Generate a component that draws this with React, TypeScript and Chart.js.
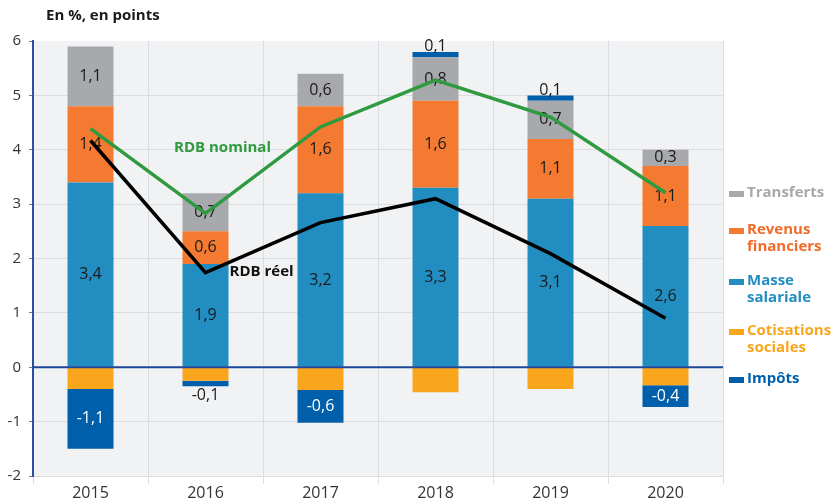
import React, { useEffect, useRef } from "react";
import { Chart, registerables } from "chart.js";

Chart.register(...registerables);

const categories = ["2015", "2016", "2017", "2018", "2019", "2020"];
const masseSalariale = [3.4, 1.9, 3.2, 3.3, 3.1, 2.6];
const revenusFinanciers = [1.4, 0.6, 1.6, 1.6, 1.1, 1.1];
const transferts = [1.1, 0.7, 0.6, 0.8, 0.7, 0.3];
const cotisationsSociales = [-0.4, -0.25, -0.42, -0.46, -0.4, -0.33];
const impots = [-1.1, -0.1, -0.6, 0.1, 0.1, -0.4];
const rdbNominal = [4.39, 2.83, 4.42, 5.28, 4.6, 3.21];
const rdbReel = [4.17, 1.74, 2.66, 3.1, 2.09, 0.9];
const yTicks = [-2, -1, 0, 1, 2, 3, 4, 5, 6];

const FONT = "'Open Sans', 'Noto Sans', sans-serif";

const C_GRAY = "#a7a9ac";
const C_ORANGE = "#f37a30";
const C_BLUE = "#228dc1";
const C_YELLOW = "#f9a61c";
const C_DBLUE = "#005faa";
const C_GREEN = "#2f9a3f";

const legendItems = [
  { lines: ["Transferts"], color: C_GRAY, text: "#a7a9ac" },
  { lines: ["Revenus", "financiers"], color: C_ORANGE, text: "#f26a28" },
  { lines: ["Masse", "salariale"], color: C_BLUE, text: "#228dc1" },
  { lines: ["Cotisations", "sociales"], color: C_YELLOW, text: "#f9a61c" },
  { lines: ["Impôts"], color: C_DBLUE, text: "#005faa" },
];

const fmt = (v: number) => v.toFixed(1).replace(".", ",");

export default function App() {
  const ref = useRef<HTMLCanvasElement | null>(null);

  useEffect(() => {
    document.body.style.margin = "0";
    if (!ref.current) return;
    let labelsDrawn = false;

    const drawLabels = (chart: any) => {
      const ctx = chart.ctx;
      ctx.save();
      ctx.font = `16px ${FONT}`;
      ctx.textAlign = "center";
      ctx.textBaseline = "middle";
      chart.data.datasets.forEach((ds: any, di: number) => {
        if (ds.type !== "bar" || !ds.showLabels) return;
        const meta = chart.getDatasetMeta(di);
        meta.data.forEach((el: any, i: number) => {
          const v = ds.data[i];
          const txt = fmt(v);
          const top = Math.min(el.y, el.base);
          const bot = Math.max(el.y, el.base);
          if (Math.abs(v) < 0.15) {
            ctx.fillStyle = "#1a1a1a";
            if (v > 0) ctx.fillText(txt, el.x, top - 5);
            else ctx.fillText(txt, el.x, bot + 9);
          } else {
            ctx.fillStyle = ds.labelColor || "#1a1a1a";
            ctx.fillText(txt, el.x, (top + bot) / 2);
          }
        });
      });
      ctx.restore();
    };

    const plugin = {
      id: "custom",
      beforeDraw(chart: any) {
        labelsDrawn = false;
        const { ctx, chartArea: a } = chart;
        ctx.save();
        ctx.fillStyle = "#f1f2f4";
        ctx.fillRect(a.left, a.top, a.right - a.left, a.bottom - a.top);
        ctx.restore();
      },
      beforeDatasetDraw(chart: any, args: any) {
        const ds = chart.data.datasets[args.index];
        if (ds.type === "line" && !labelsDrawn) {
          const { ctx, chartArea: a, scales } = chart;
          const y0 = scales.y.getPixelForValue(0);
          ctx.save();
          ctx.strokeStyle = "#1f4799";
          ctx.lineWidth = 2;
          ctx.beginPath();
          ctx.moveTo(a.left, y0);
          ctx.lineTo(a.right, y0);
          ctx.stroke();
          ctx.restore();
          drawLabels(chart);
          labelsDrawn = true;
        }
      },
      afterDraw(chart: any) {
        const { ctx, chartArea: a, scales } = chart;
        ctx.save();
        // title
        ctx.fillStyle = "#1a1a1a";
        ctx.font = `bold 15px ${FONT}`;
        ctx.textAlign = "left";
        ctx.textBaseline = "middle";
        ctx.fillText("En %, en points", 46, 16);
        // line annotations
        const x1 = scales.x.getPixelForValue(1);
        ctx.font = `bold 15px ${FONT}`;
        ctx.fillStyle = C_GREEN;
        ctx.textAlign = "center";
        ctx.fillText("RDB nominal", x1 + 17, scales.y.getPixelForValue(4.03));
        ctx.fillStyle = "#111";
        ctx.textAlign = "left";
        ctx.fillText("RDB réel", x1 + 24, scales.y.getPixelForValue(1.76));
        // legend
        const lx = a.right + 6;
        const tops = [193, 230, 281, 331, 379];
        legendItems.forEach((it, k) => {
          const y = tops[k];
          ctx.fillStyle = it.color;
          ctx.fillRect(lx, y - 2, 15, 6);
          ctx.fillStyle = it.text;
          ctx.font = `bold 15px ${FONT}`;
          ctx.textAlign = "left";
          it.lines.forEach((l, j) => ctx.fillText(l, lx + 18, y + j * 17));
        });
        ctx.restore();
      },
    };

    const barBase = { type: "bar", stack: "bars", order: 1, barPercentage: 0.4, categoryPercentage: 1, borderWidth: 0 };

    const chart = new Chart(ref.current, {
      type: "bar",
      data: {
        labels: categories,
        datasets: [
          { ...barBase, label: "Masse salariale", data: masseSalariale, backgroundColor: C_BLUE, showLabels: true },
          { ...barBase, label: "Cotisations sociales", data: cotisationsSociales, backgroundColor: C_YELLOW, showLabels: false },
          { ...barBase, label: "Revenus financiers", data: revenusFinanciers, backgroundColor: C_ORANGE, showLabels: true },
          { ...barBase, label: "Transferts", data: transferts, backgroundColor: C_GRAY, showLabels: true },
          { ...barBase, label: "Impôts", data: impots, backgroundColor: C_DBLUE, showLabels: true, labelColor: "#ffffff" },
          { type: "line", label: "RDB nominal", data: rdbNominal, stack: "nom", order: 0, borderColor: C_GREEN, borderWidth: 3.5, pointRadius: 0, tension: 0, fill: false },
          { type: "line", label: "RDB réel", data: rdbReel, stack: "reel", order: 0, borderColor: "#000000", borderWidth: 3.5, pointRadius: 0, tension: 0, fill: false },
        ] as any,
      },
      options: {
        animation: false,
        responsive: false,
        devicePixelRatio: 1,
        layout: { padding: { top: 41, right: 113, left: 0, bottom: 0 } },
        plugins: { legend: { display: false }, tooltip: { enabled: false }, title: { display: false } },
        scales: {
          x: {
            type: "category",
            stacked: true,
            offset: true,
            grid: { offset: true, color: "#dcdde0", lineWidth: 1, drawTicks: true, tickLength: 8 },
            border: { display: false },
            ticks: { font: { family: FONT, size: 16 }, color: "#333333", padding: 0 },
            afterFit: (s: any) => { s.height = 24; },
          },
          y: {
            type: "linear",
            stacked: true,
            min: -2,
            max: 6,
            afterBuildTicks: (s: any) => { s.ticks = yTicks.map((v) => ({ value: v })); },
            ticks: { font: { family: FONT, size: 15 }, color: "#333333", padding: 8 },
            grid: {
              color: (c: any) => (c.tick && (c.tick.value === 6 || c.tick.value === 0) ? "rgba(0,0,0,0)" : "#dcdde0"),
              tickColor: "#777777",
              lineWidth: 1,
              tickLength: 4,
            },
            border: { color: "#2a4fa3", width: 2 },
            afterFit: (s: any) => { s.width = 33; },
          },
        },
      } as any,
      plugins: [plugin],
    });
    return () => chart.destroy();
  }, []);

  return (
    <div style={{ width: 836, height: 500, position: "relative" }}>
      <canvas ref={ref} width={836} height={500} style={{ display: "block" }} />
    </div>
  );
}
